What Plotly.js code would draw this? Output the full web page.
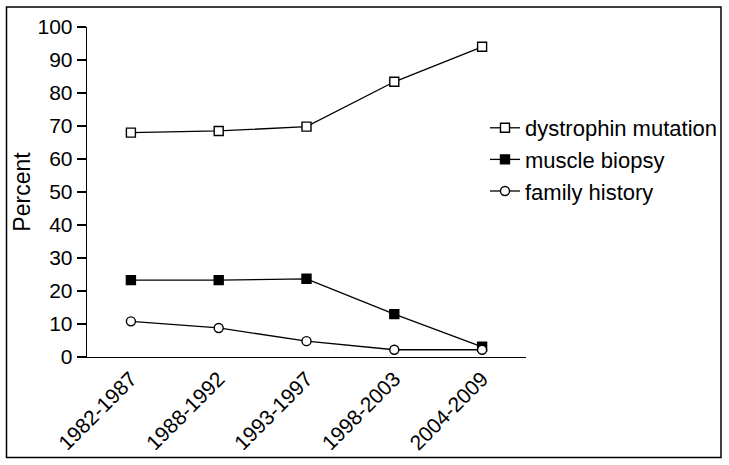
<!DOCTYPE html>
<html><head><meta charset="utf-8">
<script src="https://cdn.plot.ly/plotly-3.0.1.min.js"></script>
<style>html,body{margin:0;padding:0;background:#fff}#chart{width:729px;height:465px}</style>
</head><body><div id="chart"></div>
<script>
const periods = ["1982-1987","1988-1992","1993-1997","1998-2003","2004-2009"];
const dystrophinMutation = [68.0, 68.5, 69.8, 83.4, 94.0];
const muscleBiopsy = [23.3, 23.3, 23.7, 13.0, 3.1];
const familyHistory = [10.8, 8.8, 4.8, 2.2, 2.2];
const yTicks = [0,10,20,30,40,50,60,70,80,90,100];

const lineStyle = {color:'#000', width:1.3};
const traces = [
  {x:periods, y:dystrophinMutation, name:'dystrophin mutation', mode:'lines+markers', line:lineStyle,
   marker:{symbol:'square', size:9, color:'#fff', line:{color:'#000', width:1.4}}, legendgroup:'a'},
  {x:periods, y:muscleBiopsy, name:'muscle biopsy', mode:'lines+markers', line:lineStyle,
   marker:{symbol:'square', size:9, color:'#000', line:{color:'#000', width:1.4}}, legendgroup:'b'},
  {x:periods, y:familyHistory, name:'family history', mode:'lines+markers', line:lineStyle,
   marker:{symbol:'circle', size:9, color:'#fff', line:{color:'#000', width:1.4}}, legendgroup:'c'}
];
const L=87, R=203, T=27, B=108, W=729-L-R, H=465-T-B;
const px = v => (v - L)/W;
const py = v => (465 - B - v)/H;
const layout = {
  width:729, height:465,
  margin:{l:L, r:R, t:T, b:B, pad:0, autoexpand:false},
  paper_bgcolor:'#fff', plot_bgcolor:'#fff',
  font:{family:'Liberation Sans', color:'#000', size:21},
  showlegend:true,
  legend:{x:px(485), xanchor:'left', y:py(107), yanchor:'top', font:{size:22},
    traceorder:'grouped', tracegroupgap:0, bgcolor:'rgba(0,0,0,0)'},
  xaxis:{type:'category', range:[-0.5,4.5], showline:true, linecolor:'#000', linewidth:1.3,
    ticks:'', showgrid:false, zeroline:false, tickangle:-45, tickfont:{size:21}, fixedrange:true, automargin:false},
  yaxis:{range:[0,100], tickvals:yTicks, showline:true, linecolor:'#000', linewidth:1.3,
    ticks:'outside', ticklen:9, tickcolor:'#000', tickwidth:1.3, showgrid:false, zeroline:false,
    tickfont:{size:21}, title:{text:'Percent', font:{size:23}, standoff:0}, fixedrange:true, automargin:false},
  shapes:[{type:'rect', xref:'paper', yref:'paper', x0:px(6.5), x1:px(721), y0:py(457.5), y1:py(7),
    line:{color:'#000', width:1.5}, fillcolor:'rgba(0,0,0,0)', layer:'below'}]
};
Plotly.newPlot('chart', traces, layout, {displayModeBar:false, staticPlot:true});
</script></body></html>
